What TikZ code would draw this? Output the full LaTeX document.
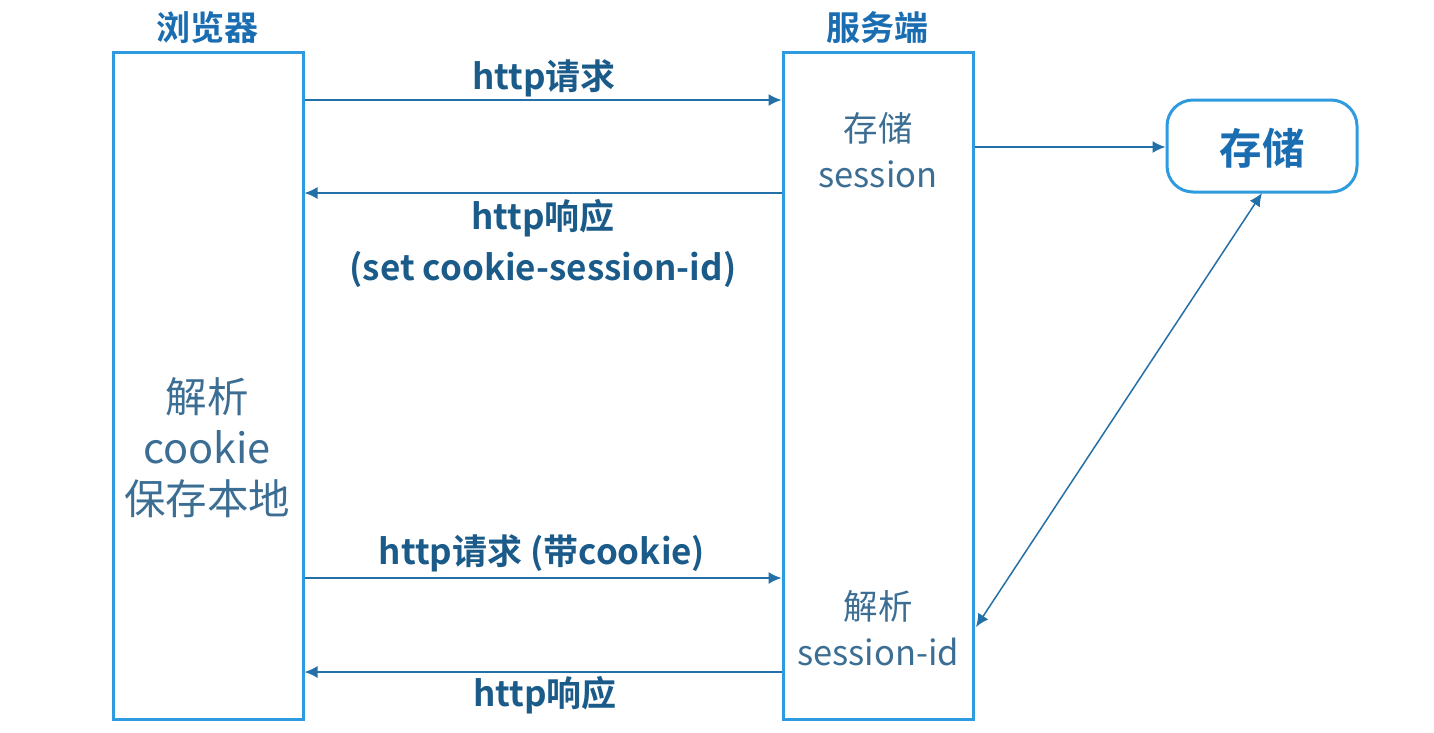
\documentclass[tikz,border=0pt]{standalone}
\usepackage{fontspec}
\setmainfont{Noto Sans CJK SC}[BoldFont={Noto Sans CJK SC Bold}]
\usetikzlibrary{arrows.meta,calc}
\definecolor{boxblue}{HTML}{2E9BDE}
\definecolor{arrowblue}{HTML}{2370A8}
\definecolor{labelblue}{HTML}{1B5B8A}
\definecolor{titleblue}{HTML}{1A6DB0}
\definecolor{textblue}{HTML}{3C6E94}
\tikzset{
  lane/.style={draw=boxblue, line width=3pt, minimum width=190pt, minimum height=667pt, inner sep=0pt},
  store/.style={draw=boxblue, line width=3pt, rounded corners=26pt, minimum width=190pt, minimum height=92pt, inner sep=0pt},
  title/.style={text=titleblue, font=\fontsize{34}{36}\selectfont\bfseries},
  lbl/.style={text=labelblue, font=\fontsize{35}{51}\selectfont\bfseries, align=center},
  inner/.style={text=textblue, font=\fontsize{34.5}{46}\selectfont, align=center},
  big/.style={text=textblue, font=\fontsize{41.5}{51}\selectfont, align=center},
  conn/.style={draw=arrowblue, line width=1.5pt, -{Latex[length=13pt,width=12pt]}},
  conn2/.style={draw=arrowblue, line width=1.5pt, {Latex[length=13pt,width=12pt]}-{Latex[length=13pt,width=12pt]}}
}
\begin{document}
\begin{tikzpicture}[x=1pt,y=-1pt]
\useasboundingbox (0,0) rectangle (1434,732);
\node[lane] (br) at (208,385.5) {};
\node[lane] (sv) at (878,385.5) {};
\node[store] (st) at (1262,146) {};
\node[title] (tb) at (207,28) {浏览器};
\node[title] (ts) at (877,28) {服务端};
\node[text=titleblue, font=\fontsize{42.5}{44}\selectfont\bfseries] (stt) at (1262,148) {存储};
\node[big] (bt) at (207,448) {解析\\cookie\\保存本地};
\node[inner] (s1) at (878,150) {存储\\session};
\node[inner] (s2) at (878,628) {解析\\session-id};
% arrow anchors
\coordinate (a1s) at (br.east |- 0,100);
\coordinate (a1e) at (sv.west |- 0,100);
\coordinate (a2s) at (sv.west |- 0,193);
\coordinate (a2e) at (br.east |- 0,193);
\coordinate (a3s) at (br.east |- 0,578);
\coordinate (a3e) at (sv.west |- 0,578);
\coordinate (a4s) at (sv.west |- 0,672);
\coordinate (a4e) at (br.east |- 0,672);
\coordinate (a5s) at (sv.east |- 0,147);
\coordinate (a5e) at (st.west |- 0,147);
\coordinate (a6s) at (976,627);
\coordinate (a6e) at (1262,193);
\draw[conn] (a1s) -- (a1e);
\draw[conn] (a2s) -- (a2e);
\draw[conn] (a3s) -- (a3e);
\draw[conn] (a4s) -- (a4e);
\draw[conn] (a5s) -- (a5e);
\draw[conn2] (a6s) -- (a6e);
\node[lbl] (l1) at (544,78) {http请求};
\node[lbl] (l2) at (543,243) {http响应\\(set cookie-session-id)};
\node[lbl] (l3) at (542,553) {http请求 (带cookie)};
\node[lbl] (l4) at (545,695) {http响应};
\end{tikzpicture}
\end{document}
